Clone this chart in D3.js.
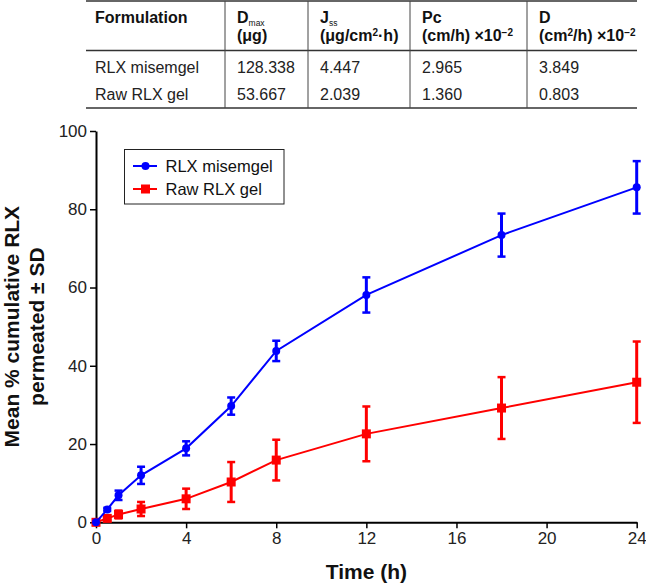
<!DOCTYPE html>
<html>
<head>
<meta charset="utf-8">
<script src="https://cdn.jsdelivr.net/npm/d3@7"></script>
<style>
  body { margin: 0; background: #fff; }
  svg { display: block; font-family: Arial, "Liberation Sans", sans-serif; }
</style>
</head>
<body>
<svg id="chart" width="646" height="585"></svg>
<script>
// time points (h)
const times = [0, 0.5, 1, 2, 4, 6, 8, 12, 18, 24];

// RLX misemgel
const misemgelMean = [0, 3.3, 6.9, 12.0, 18.9, 29.7, 43.8, 58.1, 73.4, 85.6];
const misemgelSD = [0, 0.4, 1.2, 2.2, 1.8, 2.2, 2.6, 4.5, 5.5, 6.7];

// Raw RLX gel
const rawMean = [0, 1.0, 2.0, 3.4, 6.0, 10.3, 15.9, 22.6, 29.2, 35.8];
const rawSD = [0, 0.5, 1.0, 1.8, 2.6, 5.1, 5.2, 7.0, 7.9, 10.4];

const xTicks = [0, 4, 8, 12, 16, 20, 24];
const yTicks = [0, 20, 40, 60, 80, 100];

// table
const tableRows = ["RLX misemgel", "Raw RLX gel"];
const dmax = ["128.338", "53.667"];
const jss = ["4.447", "2.039"];
const pc = ["2.965", "1.360"];
const diff = ["3.849", "0.803"];

const width = 646,
  height = 585;
const margin = { left: 96, right: 9.3, top: 131, bottom: 62.7 };

const svg = d3.select("#chart").attr("viewBox", [0, 0, width, height]);

// ---------- table ----------
const colX = [86, 225, 308, 410, 527];
const tableRight = 637;
const table = svg.append("g");

table.append("line").attr("x1", colX[0]).attr("x2", tableRight)
  .attr("y1", 1).attr("y2", 1).attr("stroke", "#333").attr("stroke-width", 1.5);
table.append("line").attr("x1", colX[0]).attr("x2", tableRight)
  .attr("y1", 50.5).attr("y2", 50.5).attr("stroke", "#333").attr("stroke-width", 1.3);
table.append("line").attr("x1", colX[0]).attr("x2", tableRight)
  .attr("y1", 108).attr("y2", 108).attr("stroke", "#333").attr("stroke-width", 1.5);

colX.slice(1).forEach((x) => {
  table.append("line").attr("x1", x).attr("x2", x)
    .attr("y1", 1).attr("y2", 108).attr("stroke", "#444").attr("stroke-width", 1);
});

const textX = [95, 237, 320, 422, 539];
const head = table.append("g").style("font-weight", "bold").style("font-size", "16px").attr("fill", "#111");

head.append("text").attr("x", textX[0]).attr("y", 23).text("Formulation");

const h1 = head.append("text").attr("x", textX[1]).attr("y", 23);
h1.append("tspan").text("D");
h1.append("tspan").attr("dy", 2.5).style("font-size", "8.5px").style("font-weight", "normal").text("max");
head.append("text").attr("x", textX[1]).attr("y", 41).text("(μg)");

const h2 = head.append("text").attr("x", textX[2]).attr("y", 23);
h2.append("tspan").text("J");
h2.append("tspan").attr("dy", 2.5).style("font-size", "8.5px").style("font-weight", "normal").text("ss");
const h2b = head.append("text").attr("x", textX[2]).attr("y", 41);
h2b.append("tspan").text("(μg/cm");
h2b.append("tspan").attr("dy", -5).style("font-size", "10px").text("2");
h2b.append("tspan").attr("dy", 5).text("·h)");

head.append("text").attr("x", textX[3]).attr("y", 23).text("Pc");
const h3b = head.append("text").attr("x", textX[3]).attr("y", 41);
h3b.append("tspan").text("(cm/h) ×10");
h3b.append("tspan").attr("dy", -5).style("font-size", "10px").text("−2");

head.append("text").attr("x", textX[4]).attr("y", 23).text("D");
const h4b = head.append("text").attr("x", textX[4]).attr("y", 41);
h4b.append("tspan").text("(cm");
h4b.append("tspan").attr("dy", -5).style("font-size", "10px").text("2");
h4b.append("tspan").attr("dy", 5).text("/h) ×10");
h4b.append("tspan").attr("dy", -5).style("font-size", "10px").text("−2");

const rowY = [73, 100];
const cols = [tableRows, dmax, jss, pc, diff];
cols.forEach((col, c) => {
  col.forEach((v, r) => {
    table.append("text").attr("x", textX[c]).attr("y", rowY[r])
      .style("font-size", "16px").attr("fill", "#222").text(v);
  });
});

// ---------- chart ----------
const x_scale = d3.scaleLinear().domain([0, 24]).range([margin.left, width - margin.right]);
const y_scale = d3.scaleLinear().domain([0, 100]).range([height - margin.bottom, margin.top]);

const x_axis = d3.axisBottom(x_scale).tickValues(xTicks).tickSize(6).tickSizeOuter(0).tickPadding(4);
const y_axis = d3.axisLeft(y_scale).tickValues(yTicks).tickSize(6).tickSizeOuter(0).tickPadding(3);

const gx = svg.append("g")
  .attr("transform", `translate(0,${height - margin.bottom})`)
  .call(x_axis);
const gy = svg.append("g")
  .attr("transform", `translate(${margin.left},0)`)
  .call(y_axis);

[gx, gy].forEach((g) => {
  g.select(".domain").attr("stroke", "#000").attr("stroke-width", 2);
  g.selectAll(".tick line").attr("stroke", "#000").attr("stroke-width", 1.5);
  g.selectAll(".tick text").attr("fill", "#222").style("font-size", "17px").style("font-family", "Arial, 'Liberation Sans', sans-serif");
});

// axis titles
svg.append("text")
  .attr("x", x_scale(12))
  .attr("y", 579)
  .attr("text-anchor", "middle")
  .style("font-size", "21px")
  .style("font-weight", "bold")
  .attr("fill", "#111")
  .text("Time (h)");

const yMid = (y_scale(0) + y_scale(100)) / 2;
svg.append("text")
  .attr("text-anchor", "middle")
  .attr("transform", `translate(19,${yMid}) rotate(-90)`)
  .style("font-size", "21px")
  .style("font-weight", "bold")
  .attr("fill", "#111")
  .text("Mean % cumulative RLX");
svg.append("text")
  .attr("text-anchor", "middle")
  .attr("transform", `translate(44,${yMid}) rotate(-90)`)
  .style("font-size", "21px")
  .style("font-weight", "bold")
  .attr("fill", "#111")
  .text("permeated ± SD");

// series
const series = [
  { name: "Raw RLX gel", mean: rawMean, sd: rawSD, color: "#ff0000", shape: "square" },
  { name: "RLX misemgel", mean: misemgelMean, sd: misemgelSD, color: "#0000ff", shape: "circle" },
];

const line_generator = d3.line()
  .x((d) => x_scale(d.t))
  .y((d) => y_scale(d.m));

series.forEach((s) => {
  const pts = times.map((t, i) => ({ t: t, m: s.mean[i], sd: s.sd[i] }));
  const g = svg.append("g");

  g.append("path")
    .attr("fill", "none")
    .attr("stroke", s.color)
    .attr("stroke-width", 2)
    .attr("d", line_generator(pts));

  // error bars
  const eb = g.selectAll(".eb").data(pts.filter((d) => d.sd > 0)).join("g");
  eb.append("line")
    .attr("x1", (d) => x_scale(d.t)).attr("x2", (d) => x_scale(d.t))
    .attr("y1", (d) => y_scale(d.m - d.sd)).attr("y2", (d) => y_scale(d.m + d.sd))
    .attr("stroke", s.color).attr("stroke-width", 3);
  [-1, 1].forEach((k) => {
    eb.append("line")
      .attr("x1", (d) => x_scale(d.t) - 4).attr("x2", (d) => x_scale(d.t) + 4)
      .attr("y1", (d) => y_scale(d.m + k * d.sd)).attr("y2", (d) => y_scale(d.m + k * d.sd))
      .attr("stroke", s.color).attr("stroke-width", 2.5);
  });

  if (s.shape === "circle") {
    g.selectAll("circle").data(pts).join("circle")
      .attr("cx", (d) => x_scale(d.t)).attr("cy", (d) => y_scale(d.m))
      .attr("r", 4).attr("fill", s.color);
  } else {
    g.selectAll("rect").data(pts).join("rect")
      .attr("x", (d) => x_scale(d.t) - 4.5).attr("y", (d) => y_scale(d.m) - 4.5)
      .attr("width", 9).attr("height", 9).attr("fill", s.color);
  }
});

// legend
const legend = svg.append("g");
legend.append("rect")
  .attr("x", 124.5).attr("y", 149.5).attr("width", 159.5).attr("height", 54.5)
  .attr("fill", "#fff").attr("stroke", "#222").attr("stroke-width", 1);

const legendItems = [series[1], series[0]];
legendItems.forEach((s, i) => {
  const y = 166 + i * 23;
  legend.append("line").attr("x1", 133).attr("x2", 157).attr("y1", y).attr("y2", y)
    .attr("stroke", s.color).attr("stroke-width", 2);
  if (s.shape === "circle") {
    legend.append("circle").attr("cx", 145.5).attr("cy", y).attr("r", 4).attr("fill", s.color);
  } else {
    legend.append("rect").attr("x", 141).attr("y", y - 4.5).attr("width", 9).attr("height", 9).attr("fill", s.color);
  }
  legend.append("text").attr("x", 165.5).attr("y", y + 6)
    .style("font-size", "16.5px").attr("fill", "#111").text(s.name);
});
</script>
</body>
</html>
